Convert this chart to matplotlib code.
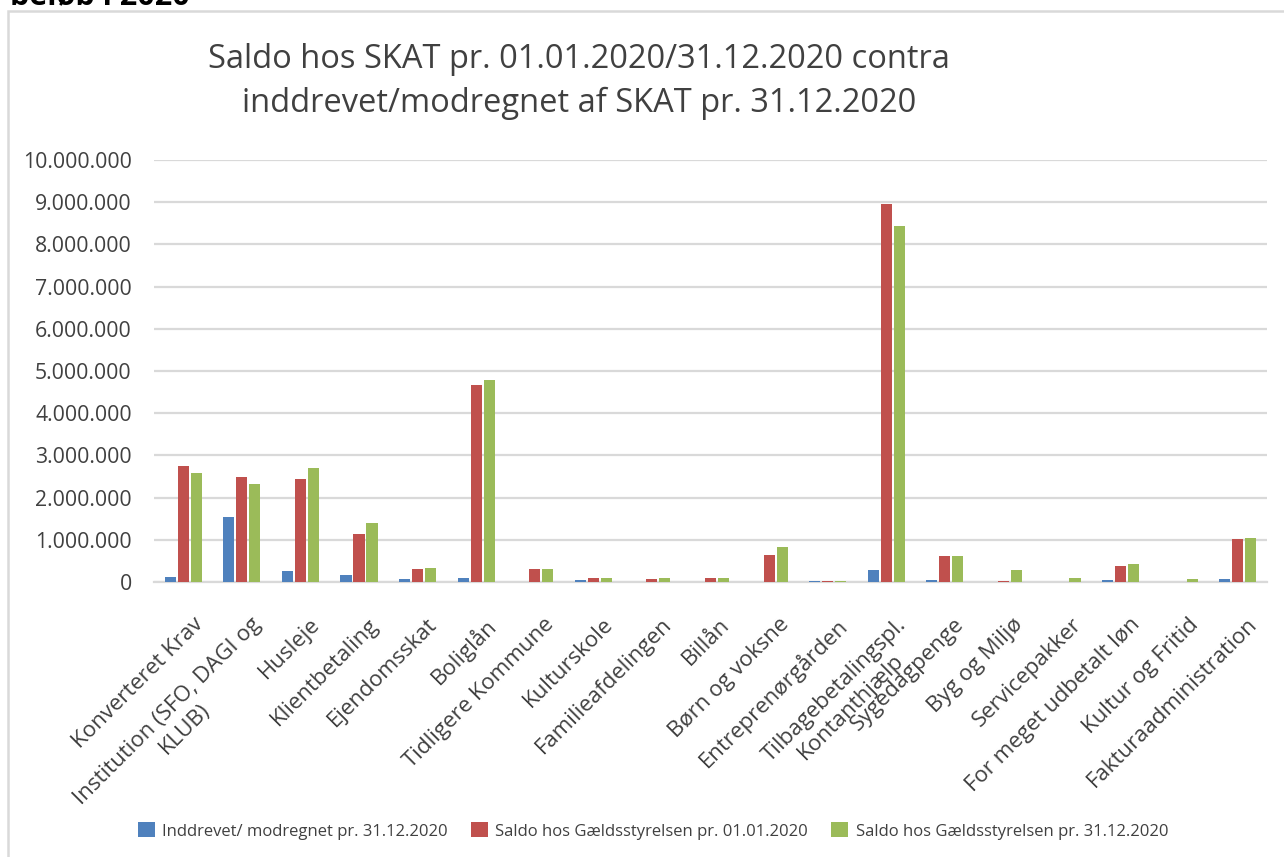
import matplotlib
matplotlib.use("Agg")
import matplotlib.pyplot as plt
import numpy as np
from matplotlib.patches import Patch, Rectangle
from matplotlib.ticker import FuncFormatter, MultipleLocator

plt.rcParams["font.family"] = ["Open Sans", "DejaVu Sans"]

categories = [
    "Konverteret Krav",
    "Institution (SFO, DAGI og\nKLUB)",
    "Husleje",
    "Klientbetaling",
    "Ejendomsskat",
    "Boliglån",
    "Tidligere Kommune",
    "Kulturskole",
    "Familieafdelingen",
    "Billån",
    "Børn og voksne",
    "Entreprenørgården",
    "Tilbagebetalingspl.\nKontanthjælp",
    "Sygedagpenge",
    "Byg og Miljø",
    "Servicepakker",
    "For meget udbetalt løn",
    "Kultur og Fritid",
    "Fakturaadministration",
]

inddrevet = [110000, 1530000, 250000, 160000, 60000, 90000, 0, 40000, 0, 0,
             0, 12000, 280000, 40000, 0, 10000, 40000, 0, 60000]
saldo_0101 = [2740000, 2480000, 2430000, 1130000, 300000, 4660000, 300000, 90000, 60000, 90000,
              630000, 12000, 8960000, 610000, 12000, 10000, 370000, 0, 1010000]
saldo_3112 = [2580000, 2320000, 2700000, 1390000, 320000, 4780000, 300000, 90000, 90000, 90000,
              820000, 12000, 8430000, 610000, 280000, 90000, 420000, 60000, 1040000]

series_labels = [
    "Inddrevet/ modregnet pr. 31.12.2020",
    "Saldo hos Gældsstyrelsen pr. 01.01.2020",
    "Saldo hos Gældsstyrelsen pr. 31.12.2020",
]
colors = ["#4F81BD", "#C0504D", "#9BBB59"]

W, H = 1284, 857
fig = plt.figure(figsize=(W / 100, H / 100), dpi=100)

# chart frame
fig.patches.append(Rectangle((8 / W, -0.1), 1.2, 1 - 11 / H + 0.1, transform=fig.transFigure,
                             fill=False, edgecolor="#D9D9D9", linewidth=1.8))
# heading above the chart, cut by the top edge like in the source image
fig.text(10 / W, 1 - 4 / H, "beløb i 2020", fontsize=22, fontweight="bold",
         ha="left", va="baseline", color="black")

ax = fig.add_axes([154 / W, 275 / H, (1267 - 154) / W, (697 - 275) / H])

x = np.arange(len(categories))
bw = 0.19
step = 0.222
for i, (vals, col, lab) in enumerate(zip([inddrevet, saldo_0101, saldo_3112], colors, series_labels)):
    ax.bar(x + (i - 1) * step, vals, width=bw, color=col, label=lab, zorder=3)

ax.set_xlim(-0.5, len(categories) - 0.5)
ax.set_ylim(0, 10000000)
ax.yaxis.set_major_locator(MultipleLocator(1000000))
ax.yaxis.set_major_formatter(FuncFormatter(lambda v, p: f"{int(v):,}".replace(",", ".")))
ax.grid(axis="y", color="#D9D9D9", linewidth=1.6, zorder=0)
for s in ["top", "right", "left"]:
    ax.spines[s].set_visible(False)
ax.spines["bottom"].set_color("#D9D9D9")
ax.spines["bottom"].set_linewidth(1.6)
ax.tick_params(axis="y", length=0, pad=16, labelsize=15.3, labelcolor="#404040")
ax.tick_params(axis="x", length=0)

ax.set_xticks(x)
ax.set_xticklabels([])
for xi, lab in zip(x, categories):
    ax.annotate(lab, xy=(xi, 0), xycoords="data", xytext=(9, -32), textcoords="offset pixels",
                rotation=45, ha="right", va="top", rotation_mode="anchor",
                multialignment="center", fontsize=16, color="#404040", annotation_clip=False)

fig.text(579 / W, 1 - 60 / H, "Saldo hos SKAT pr. 01.01.2020/31.12.2020 contra",
         ha="center", va="center", fontsize=23.5, color="#404040")
fig.text(579 / W, 1 - 103 / H, "inddrevet/modregnet af SKAT pr. 31.12.2020",
         ha="center", va="center", fontsize=23.5, color="#404040")

handles = [Patch(facecolor=c, label=l) for c, l in zip(colors, series_labels)]
fig.legend(handles=handles, loc="center", bbox_to_anchor=(653 / W, 26 / H), ncol=3,
           frameon=False, fontsize=12, handlelength=1.0, handleheight=1.0,
           handletextpad=0.45, columnspacing=1.4, labelcolor="#404040")

fig.savefig("out.png", dpi=100)
